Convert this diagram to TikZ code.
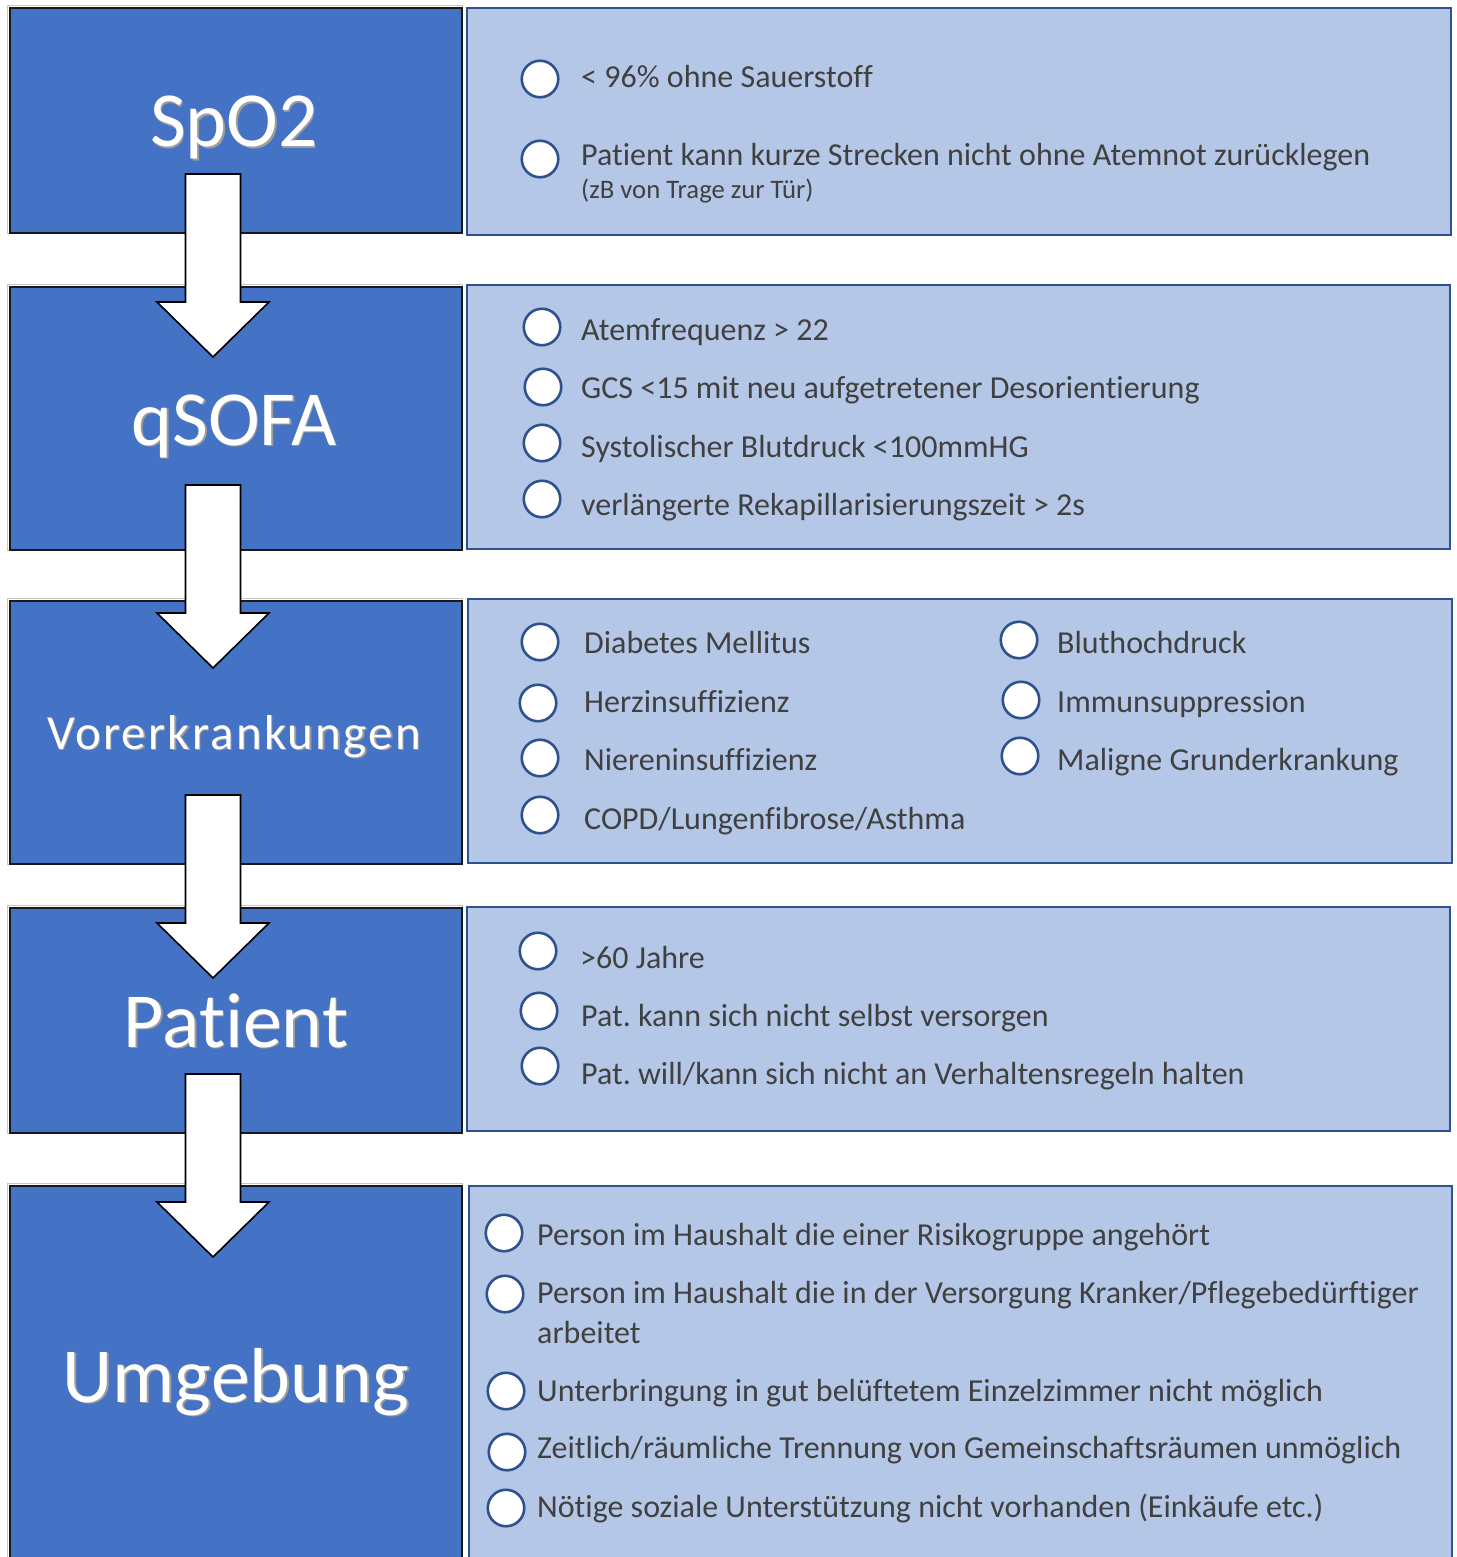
\documentclass[tikz,border=0pt]{standalone}
\usepackage{fontspec}
\setmainfont[Ligatures={NoCommon,NoContextual},Contextuals=NoAlternate]{Carlito}
\newfontfamily\titlespaced[LetterSpace=4.5,Ligatures={NoCommon,NoContextual},Contextuals=NoAlternate]{Carlito}
\definecolor{catblue}{HTML}{4472C4}
\definecolor{itemfill}{HTML}{B4C7E7}
\definecolor{itemborder}{HTML}{2F528F}
\definecolor{bodytext}{HTML}{404040}
\definecolor{shade}{HTML}{9C9C9C}
\frenchspacing
\newcommand{\nl}{\kern0pt\relax}
\newcommand{\chkrow}[6]{%
  \node[chk] (#1c) at (#2,#3) {};
  \node[itemtext] (#1t) at (#4,#5) {#6};}
\newcommand{\titletext}[4]{%
  \node[titleshadow] at (#2+1.6,#3+1.6) {#4};
  \node[titlefont] (#1) at (#2,#3) {#4};}
\newcommand{\blockarr}[3]{%
  \draw[blockarrow] (#2-27.5,#3) -- (#2+27.5,#3) -- (#2+27.5,#3+128)
    -- (#2+56,#3+128) -- (#2,#3+183) -- (#2-56,#3+128) -- (#2-27.5,#3+128) -- cycle;
  \coordinate (#1) at (#2,#3+183);}
\begin{document}
\begin{tikzpicture}[x=1pt,y=-1pt,
  catbox/.style={draw=black!90, line width=1.6pt, fill=catblue, inner sep=0pt, anchor=north west},
  itembox/.style={draw=itemborder, line width=2.4pt, fill=itemfill, inner sep=0pt, anchor=north west},
  chk/.style={circle, draw=itemborder, line width=2.6pt, fill=white, minimum size=36.5pt, inner sep=0pt},
  itemtext/.style={anchor=base west, inner sep=0pt, text=bodytext, font=\fontsize{32}{38}\selectfont},
  smalltext/.style={anchor=base west, inner sep=0pt, text=bodytext, font=\fontsize{26.7}{32}\selectfont},
  titlefont/.style={anchor=base, inner sep=0pt, text=white, font=\fontsize{78}{90}\selectfont},
  titleshadow/.style={anchor=base, inner sep=0pt, text=shade, font=\fontsize{78}{90}\selectfont},
  blockarrow/.style={draw=black, line width=1.6pt, fill=white, line join=miter}]
\useasboundingbox (0,0) rectangle (1456,1557);
\clip (0,0) rectangle (1456,1557);

% left category boxes
\foreach \ya/\h in {7/225, 286/263, 600/263, 907/225, 1185/400}{
  \draw[gray!45, line width=1pt] (7.5,\ya-1.5) rectangle (462.5,\ya+\h+1.5);}
\node[catbox, minimum width=452pt, minimum height=225pt] (L1) at (9,7) {};
\node[catbox, minimum width=452pt, minimum height=263pt] (L2) at (9,286) {};
\node[catbox, minimum width=452pt, minimum height=263pt] (L3) at (9,600) {};
\node[catbox, minimum width=452pt, minimum height=225pt] (L4) at (9,907) {};
\node[catbox, minimum width=452pt, minimum height=400pt] (L5) at (9,1185) {};

% right item boxes
\node[itembox, minimum width=984pt, minimum height=227pt] (R1) at (466,7) {};
\node[itembox, minimum width=983pt, minimum height=264pt] (R2) at (466,284) {};
\node[itembox, minimum width=984pt, minimum height=264pt] (R3) at (467,598) {};
\node[itembox, minimum width=983pt, minimum height=224pt] (R4) at (466,906) {};
\node[itembox, minimum width=983pt, minimum height=400pt] (R5) at (468,1185) {};

% titles
\titletext{T1}{234}{147}{SpO2}
\titletext{T2}{234}{445}{qSOFA}
\node[anchor=base, inner sep=0pt, text=shade, font=\titlespaced\fontsize{49}{58}\selectfont] at (235.6,750.6) {Vorerkrankungen};
\node[anchor=base, inner sep=0pt, text=white, font=\titlespaced\fontsize{49}{58}\selectfont] (T3) at (234,749) {Vorerkrankungen};
\titletext{T4}{236}{1047}{Pat\nl ient}
\titletext{T5}{236}{1402}{Umgebung}

% box 1 items
\chkrow{a1}{540}{79}{581}{88}{< 96\% ohne Sauerstof\nl f}
\chkrow{a2}{540}{159}{581}{166}{Pat\nl ient kann kurze Strecken nicht ohne Atemnot zurücklegen}
\node[smalltext] (a2s) at (581,199) {(zB von Trage zur Tür)};

% box 2 items
\chkrow{b1}{542}{327}{581}{340}{Atemfrequenz > 22}
\chkrow{b2}{543}{387}{581}{398}{GCS <15 mit neu aufgetretener Desorient\nl ierung}
\chkrow{b3}{542}{443}{581}{457}{Systolischer Blutdruck <100mmHG}
\chkrow{b4}{542}{499}{581}{515}{verlängerte Rekapillarisierungszeit > 2s}

% box 3 items
\chkrow{c1}{540}{642}{584}{653}{Diabetes Mellitus}
\chkrow{c2}{538}{703}{584}{712}{Herzinsuf\nl f\nl izienz}
\chkrow{c3}{540}{758}{584}{770}{Niereninsuf\nl f\nl izienz}
\chkrow{c4}{540}{815}{584}{829}{COPD/Lungenf\nl ibrose/Asthma}
\chkrow{c5}{1019}{640}{1057}{653}{Bluthochdruck}
\chkrow{c6}{1021}{700}{1057}{712}{Immunsuppression}
\chkrow{c7}{1020}{756}{1057}{770}{Maligne Grunderkrankung}

% box 4 items
\chkrow{d1}{538}{951}{580}{968}{>60 Jahre}
\chkrow{d2}{539}{1011}{581}{1026}{Pat. kann sich nicht selbst versorgen}
\chkrow{d3}{540}{1066}{581}{1084}{Pat. will/kann sich nicht an Verhaltensregeln halten}

% box 5 items
\chkrow{e1}{504}{1233}{537}{1245}{Person im Haushalt die einer Risikogruppe angehört}
\chkrow{e2}{505}{1294}{537}{1303}{Person im Haushalt die in der Versorgung Kranker/Pf\nl legebedürf\nl t\nl iger}
\node[itemtext] (e2b) at (537,1343) {arbeitet};
\chkrow{e3}{506}{1391}{537}{1401}{Unterbringung in gut belüf\nl tetem Einzelzimmer nicht möglich}
\chkrow{e4}{507}{1452}{537}{1458}{Zeitlich/räumliche Trennung von Gemeinschaf\nl tsräumen unmöglich}
\chkrow{e5}{506}{1508}{537}{1517}{Nötige soziale Unterstützung nicht vorhanden (Einkäufe etc.)}

% block arrows between categories
\blockarr{A1}{213}{174}
\blockarr{A2}{213}{485}
\blockarr{A3}{213}{795}
\blockarr{A4}{213}{1074}
\end{tikzpicture}
\end{document}
